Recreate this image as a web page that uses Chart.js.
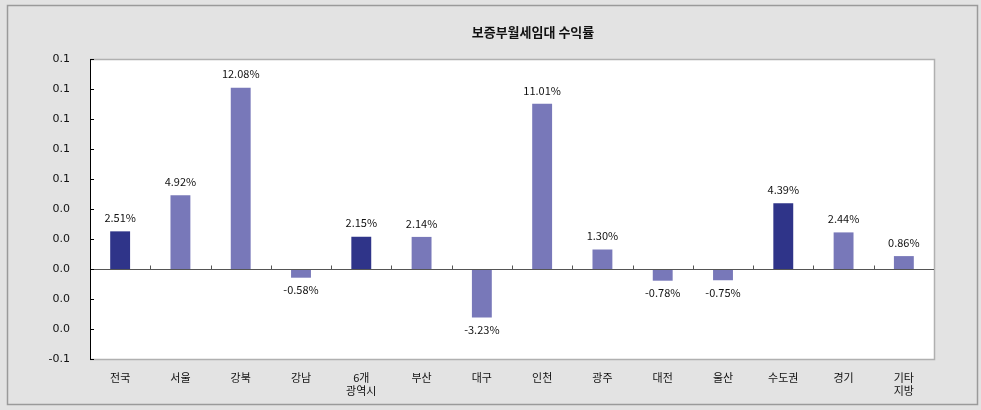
<!DOCTYPE html>
<html>
<head>
<meta charset="utf-8">
<script src="https://cdn.jsdelivr.net/npm/chart.js@4"></script>
<style>
  html, body { margin: 0; padding: 0; background: #fff; }
  #wrap { width: 981px; height: 410px; }
</style>
</head>
<body>
<div id="wrap"><canvas id="rentChart" width="981" height="410"></canvas></div>
<script>
var regions = ["전국", "서울", "강북", "강남", ["6개", "광역시"], "부산", "대구", "인천", "광주", "대전", "울산", "수도권", "경기", ["기타", "지방"]];
var yields = [2.51, 4.92, 12.08, -0.58, 2.15, 2.14, -3.23, 11.01, 1.30, -0.78, -0.75, 4.39, 2.44, 0.86];
var highlighted = [0, 4, 11];
var yTickLabels = ["0.1", "0.1", "0.1", "0.1", "0.1", "0.0", "0.0", "0.0", "0.0", "0.0", "-0.1"];

var darkBar = "#2f3489";
var lightBar = "#7878b9";
var labelFont = "11px 'Noto Sans CJK KR', 'DejaVu Sans', sans-serif";

var barColors = yields.map(function (v, i) {
  return highlighted.indexOf(i) >= 0 ? darkBar : lightBar;
});

var frame = {
  id: "frame",
  beforeDraw: function (chart) {
    var ctx = chart.ctx, a = chart.chartArea;
    ctx.save();
    ctx.fillStyle = "#e3e3e3";
    ctx.fillRect(0, 0, chart.width, chart.height);
    ctx.strokeStyle = "#9a9a9a";
    ctx.lineWidth = 1.5;
    ctx.strokeRect(7.5, 5.5, 970, 399);
    ctx.fillStyle = "#fff";
    ctx.fillRect(a.left, a.top, a.right - a.left, a.bottom - a.top);
    ctx.strokeStyle = "#b0b0b0";
    ctx.lineWidth = 1.5;
    ctx.beginPath();
    ctx.moveTo(a.left, a.top + 0.5);
    ctx.lineTo(a.right + 0.5, a.top + 0.5);
    ctx.lineTo(a.right + 0.5, a.bottom + 0.5);
    ctx.lineTo(a.left, a.bottom + 0.5);
    ctx.stroke();
    // title
    ctx.fillStyle = "#111";
    ctx.font = "bold 13px 'Noto Sans CJK KR', sans-serif";
    ctx.textAlign = "center";
    ctx.textBaseline = "middle";
    ctx.fillText("보증부월세임대 수익률", 533, 32);
    ctx.restore();
  },
  afterDatasetsDraw: function (chart) {
    var ctx = chart.ctx, a = chart.chartArea;
    var x = chart.scales.x, y = chart.scales.y;
    var zero = Math.round(y.getPixelForValue(0)) + 0.5;
    ctx.save();
    // zero line with category ticks
    ctx.strokeStyle = "#555";
    ctx.lineWidth = 1;
    ctx.beginPath();
    ctx.moveTo(a.left, zero);
    ctx.lineTo(a.right, zero);
    for (var i = 1; i < regions.length; i++) {
      var bx = Math.round((x.getPixelForValue(i - 1) + x.getPixelForValue(i)) / 2) + 0.5;
      ctx.moveTo(bx, zero);
      ctx.lineTo(bx, zero - 4);
    }
    ctx.stroke();
    // y ticks inside the axis
    ctx.strokeStyle = "#000";
    ctx.beginPath();
    y.ticks.forEach(function (t) {
      var py = Math.round(y.getPixelForValue(t.value)) + 0.5;
      ctx.moveTo(a.left, py);
      ctx.lineTo(a.left + 4, py);
    });
    ctx.stroke();
    // value labels
    ctx.fillStyle = "#111";
    ctx.font = labelFont;
    ctx.textAlign = "center";
    var meta = chart.getDatasetMeta(0);
    meta.data.forEach(function (bar, i) {
      var v = yields[i];
      var txt = v.toFixed(2) + "%";
      if (v >= 0) {
        ctx.textBaseline = "bottom";
        ctx.fillText(txt, bar.x, bar.y - 8);
      } else {
        ctx.textBaseline = "top";
        ctx.fillText(txt, bar.x, bar.y + 7);
      }
    });
    ctx.restore();
  }
};

new Chart(document.getElementById("rentChart"), {
  type: "bar",
  data: {
    labels: regions,
    datasets: [{
      data: yields.map(function (v) { return v / 100; }),
      backgroundColor: barColors,
      borderWidth: 0,
      barPercentage: 0.33,
      categoryPercentage: 1
    }]
  },
  options: {
    responsive: false,
    animation: false,
    layout: { padding: { top: 59, right: 47, left: 0, bottom: 0 } },
    plugins: { legend: { display: false }, tooltip: { enabled: false } },
    scales: {
      x: {
        grid: { display: false, drawTicks: false },
        border: { display: false },
        ticks: {
          color: "#111",
          font: { family: "'Noto Sans CJK KR', sans-serif", size: 11 },
          padding: 12,
          maxRotation: 0
        },
        afterFit: function (s) { s.height = 51; }
      },
      y: {
        min: -0.06,
        max: 0.14,
        grid: { display: false, drawTicks: false },
        border: { display: true, color: "#000", width: 1 },
        ticks: {
          stepSize: 0.02,
          color: "#111",
          padding: 20,
          font: { family: "'DejaVu Sans', sans-serif", size: 11 },
          callback: function (v, i, ticks) { return yTickLabels[ticks.length - 1 - i]; }
        },
        afterFit: function (s) { s.width = 90; }
      }
    }
  },
  plugins: [frame]
});
</script>
</body>
</html>
